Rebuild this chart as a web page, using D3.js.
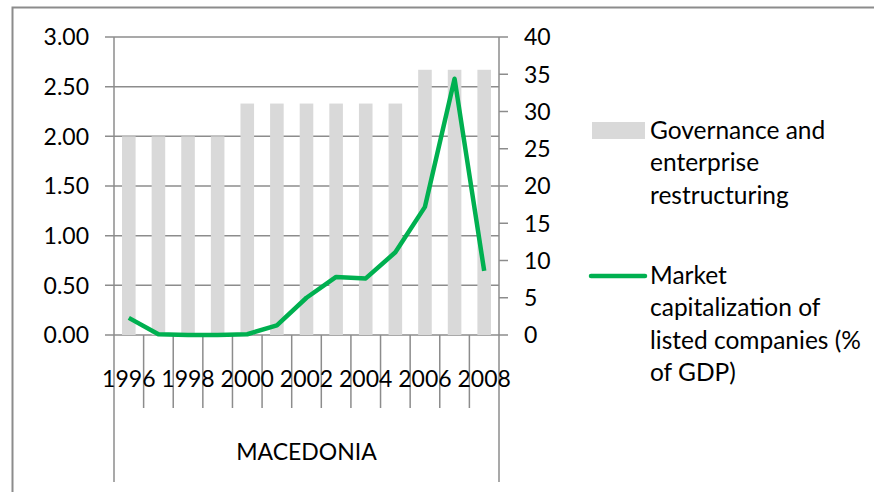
<!DOCTYPE html>
<html>
<head>
<meta charset="utf-8">
<script src="https://cdn.jsdelivr.net/npm/d3@7"></script>
<style>
  body { margin: 0; background: #fff; }
  text { font-family: Lato, "Open Sans", sans-serif; fill: #000; }
</style>
</head>
<body>
<div id="chart"></div>
<script>
const width = 874;
const height = 492;

// values
const years = [1996, 1997, 1998, 1999, 2000, 2001, 2002, 2003, 2004, 2005, 2006, 2007, 2008];
const governance = [2.00, 2.00, 2.00, 2.00, 2.33, 2.33, 2.33, 2.33, 2.33, 2.33, 2.67, 2.67, 2.67];
const marketCap = [2.3, 0.1, 0.0, 0.0, 0.1, 1.3, 5.0, 7.8, 7.6, 11.1, 17.2, 34.4, 8.6];
const leftTicks = [0, 0.5, 1, 1.5, 2, 2.5, 3];
const rightTicks = [0, 5, 10, 15, 20, 25, 30, 35, 40];
const groupLabel = 'MACEDONIA';
const legendBar = ['Governance and', 'enterprise', 'restructuring'];
const legendLine = ['Market', 'capitalization of', 'listed companies (%', 'of GDP)'];

const plot = { left: 114, right: 499, top: 37, bottom: 335 };
const gridColor = '#8c8c8c';
const fontSize = 23;
const legendFontSize = 24.5;

const svg = d3.select('#chart').append('svg')
    .attr('width', width)
    .attr('height', height);

// outer chart border (cropped at right and bottom)
svg.append('rect')
    .attr('x', 12.5).attr('y', 7.5)
    .attr('width', width + 10).attr('height', height + 10)
    .attr('fill', 'none')
    .attr('stroke', gridColor)
    .attr('stroke-width', 2);

const xStep = (plot.right - plot.left) / years.length;
const xCenter = d => plot.left + xStep * (years.indexOf(d) + 0.5);

const yLeft = d3.scaleLinear().domain([0, 3]).range([plot.bottom, plot.top]);
const yRight = d3.scaleLinear().domain([0, 40]).range([plot.bottom, plot.top]);

// gridlines
svg.append('g').selectAll('line')
    .data(leftTicks)
    .enter().append('line')
    .attr('x1', plot.left - 9).attr('x2', plot.right)
    .attr('y1', d => yLeft(d)).attr('y2', d => yLeft(d))
    .attr('stroke', gridColor)
    .attr('stroke-width', 1.5);

// bars
svg.append('g').selectAll('rect')
    .data(years)
    .enter().append('rect')
    .attr('x', d => xCenter(d) - 6.8)
    .attr('width', 13.6)
    .attr('y', (d, i) => yLeft(governance[i]))
    .attr('height', (d, i) => plot.bottom - yLeft(governance[i]))
    .attr('fill', '#d9d9d9');

// left and right axis lines
svg.append('line')
    .attr('x1', plot.left).attr('x2', plot.left)
    .attr('y1', plot.top).attr('y2', 482)
    .attr('stroke', gridColor).attr('stroke-width', 1.5);
svg.append('line')
    .attr('x1', plot.right).attr('x2', plot.right)
    .attr('y1', plot.top).attr('y2', 482)
    .attr('stroke', gridColor).attr('stroke-width', 1.5);

// right axis ticks
svg.append('g').selectAll('line')
    .data(rightTicks)
    .enter().append('line')
    .attr('x1', plot.right).attr('x2', plot.right + 9)
    .attr('y1', d => yRight(d)).attr('y2', d => yRight(d))
    .attr('stroke', gridColor).attr('stroke-width', 1.5);

// category separator ticks below the axis
const seps = d3.range(1, years.length);
svg.append('g').selectAll('line')
    .data(seps)
    .enter().append('line')
    .attr('x1', i => plot.left + xStep * i).attr('x2', i => plot.left + xStep * i)
    .attr('y1', plot.bottom).attr('y2', 408)
    .attr('stroke', gridColor).attr('stroke-width', 1.5);

// axis labels
svg.append('g').selectAll('text')
    .data(leftTicks)
    .enter().append('text')
    .attr('x', 89)
    .attr('y', d => yLeft(d))
    .attr('dy', '0.36em')
    .attr('text-anchor', 'end')
    .attr('font-size', fontSize)
    .text(d => d3.format('.2f')(d));

svg.append('g').selectAll('text')
    .data(rightTicks)
    .enter().append('text')
    .attr('x', 524)
    .attr('y', d => yRight(d))
    .attr('dy', '0.36em')
    .attr('font-size', fontSize)
    .text(d => d);

svg.append('g').selectAll('text')
    .data(years.filter((d, i) => i % 2 === 0))
    .enter().append('text')
    .attr('x', d => xCenter(d))
    .attr('y', 379)
    .attr('dy', '0.36em')
    .attr('text-anchor', 'middle')
    .attr('font-size', fontSize)
    .text(d => d);

svg.append('text')
    .attr('x', (plot.left + plot.right) / 2)
    .attr('y', 452)
    .attr('dy', '0.36em')
    .attr('text-anchor', 'middle')
    .attr('font-size', fontSize)
    .text(groupLabel);

// line series
const line = d3.line()
    .x((d, i) => xCenter(years[i]))
    .y(d => yRight(d));

svg.append('path')
    .datum(marketCap)
    .attr('d', line)
    .attr('fill', 'none')
    .attr('stroke', '#00b050')
    .attr('stroke-width', 4.5)
    .attr('stroke-linejoin', 'round');

// legend
svg.append('rect')
    .attr('x', 592).attr('y', 122)
    .attr('width', 53).attr('height', 17)
    .attr('fill', '#d9d9d9');

svg.append('line')
    .attr('x1', 591).attr('x2', 645)
    .attr('y1', 276).attr('y2', 276)
    .attr('stroke', '#00b050')
    .attr('stroke-width', 4.5)
    .attr('stroke-linecap', 'round');

const lineGap = 32.5;
svg.append('g').selectAll('text')
    .data(legendBar)
    .enter().append('text')
    .attr('x', 650)
    .attr('y', (d, i) => 130 + i * lineGap)
    .attr('dy', '0.36em')
    .attr('font-size', legendFontSize)
    .text(d => d);

svg.append('g').selectAll('text')
    .data(legendLine)
    .enter().append('text')
    .attr('x', 650)
    .attr('y', (d, i) => 275 + i * lineGap)
    .attr('dy', '0.36em')
    .attr('font-size', legendFontSize)
    .text(d => d);
</script>
</body>
</html>
